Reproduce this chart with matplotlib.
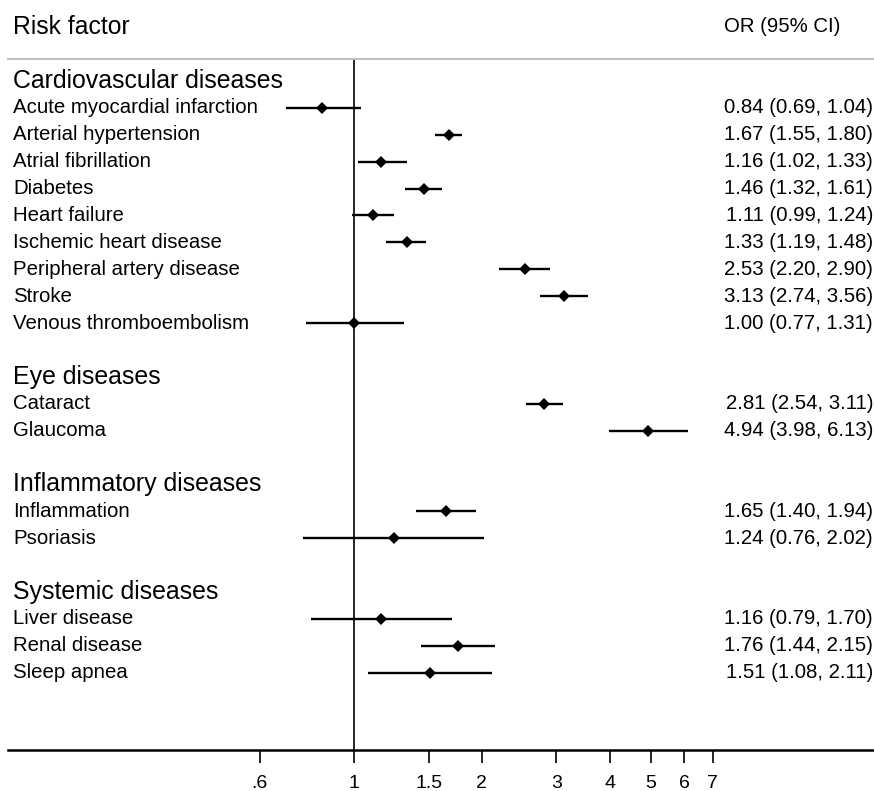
import numpy as np
import matplotlib
matplotlib.use("Agg")
import matplotlib.pyplot as plt

plt.rcParams['font.family'] = ['Liberation Sans', 'DejaVu Sans']

# groups and risk factors
groups = ["Cardiovascular diseases", "Eye diseases", "Inflammatory diseases", "Systemic diseases"]
factors = [
    ["Acute myocardial infarction", "Arterial hypertension", "Atrial fibrillation", "Diabetes",
     "Heart failure", "Ischemic heart disease", "Peripheral artery disease", "Stroke",
     "Venous thromboembolism"],
    ["Cataract", "Glaucoma"],
    ["Inflammation", "Psoriasis"],
    ["Liver disease", "Renal disease", "Sleep apnea"],
]
odds = [
    [0.84, 1.67, 1.16, 1.46, 1.11, 1.33, 2.53, 3.13, 1.00],
    [2.81, 4.94],
    [1.65, 1.24],
    [1.16, 1.76, 1.51],
]
lower = [
    [0.69, 1.55, 1.02, 1.32, 0.99, 1.19, 2.20, 2.74, 0.77],
    [2.54, 3.98],
    [1.40, 0.76],
    [0.79, 1.44, 1.08],
]
upper = [
    [1.04, 1.80, 1.33, 1.61, 1.24, 1.48, 2.90, 3.56, 1.31],
    [3.11, 6.13],
    [1.94, 2.02],
    [1.70, 2.15, 2.11],
]
tick_vals = [0.6, 1, 1.5, 2, 3, 4, 5, 6, 7]
tick_labels = [".6", "1", "1.5", "2", "3", "4", "5", "6", "7"]

fig = plt.figure(figsize=(8.74, 7.91), dpi=100)
W, H = 874, 791
ax_top, ax_bot = 59, 750
ax = fig.add_axes([8 / W, 1 - ax_bot / H, 866 / W, (ax_bot - ax_top) / H])
ax.set_xscale('log')
ax.set_xlim(0.153, 16.8)

# rows: header at row 0, items follow, blank row between groups
row_h = 26.9
first_row = 81
ax.set_ylim((ax_bot - first_row) / row_h, (ax_top - first_row) / row_h)

trans = ax.get_yaxis_transform()
r = 0
for g, names, o, lo, hi in zip(groups, factors, odds, lower, upper):
    ax.text((13 - 8) / 866, r, g, transform=trans, fontsize=17.9,
            va='center', ha='left', clip_on=False)
    r += 1
    for name, oi, li, hi_ in zip(names, o, lo, hi):
        ax.plot([li, hi_], [r, r], color='black', lw=1.7, solid_capstyle='butt')
        ax.plot(oi, r, marker='D', color='black', ms=6.5, mew=0)
        ax.text((13 - 8) / 866, r, name, transform=trans, fontsize=14.7,
                va='center', ha='left', clip_on=False)
        ax.text((873 - 8) / 866, r, "%.2f (%.2f, %.2f)" % (oi, li, hi_), transform=trans,
                fontsize=14.7, va='center', ha='right', clip_on=False)
        r += 1
    r += 1

ax.axvline(1, color='black', lw=1.2)

# headers
fig.text(13 / W, 1 - 27 / H, "Risk factor", fontsize=17.8, va='center', ha='left')
fig.text(840 / W, 1 - 27 / H, "OR (95% CI)", fontsize=14.7, va='center', ha='right')

for s in ['left', 'right']:
    ax.spines[s].set_visible(False)
ax.spines['top'].set_color('#c0c0c0')
ax.spines['top'].set_linewidth(1.5)
ax.spines['bottom'].set_linewidth(1.8)
ax.set_yticks([])
ax.set_xticks(tick_vals)
ax.set_xticklabels(tick_labels, fontsize=14)
ax.xaxis.set_minor_locator(matplotlib.ticker.NullLocator())
ax.tick_params(axis='x', length=9, width=1.2, pad=9)

fig.savefig("out.png", dpi=100)
